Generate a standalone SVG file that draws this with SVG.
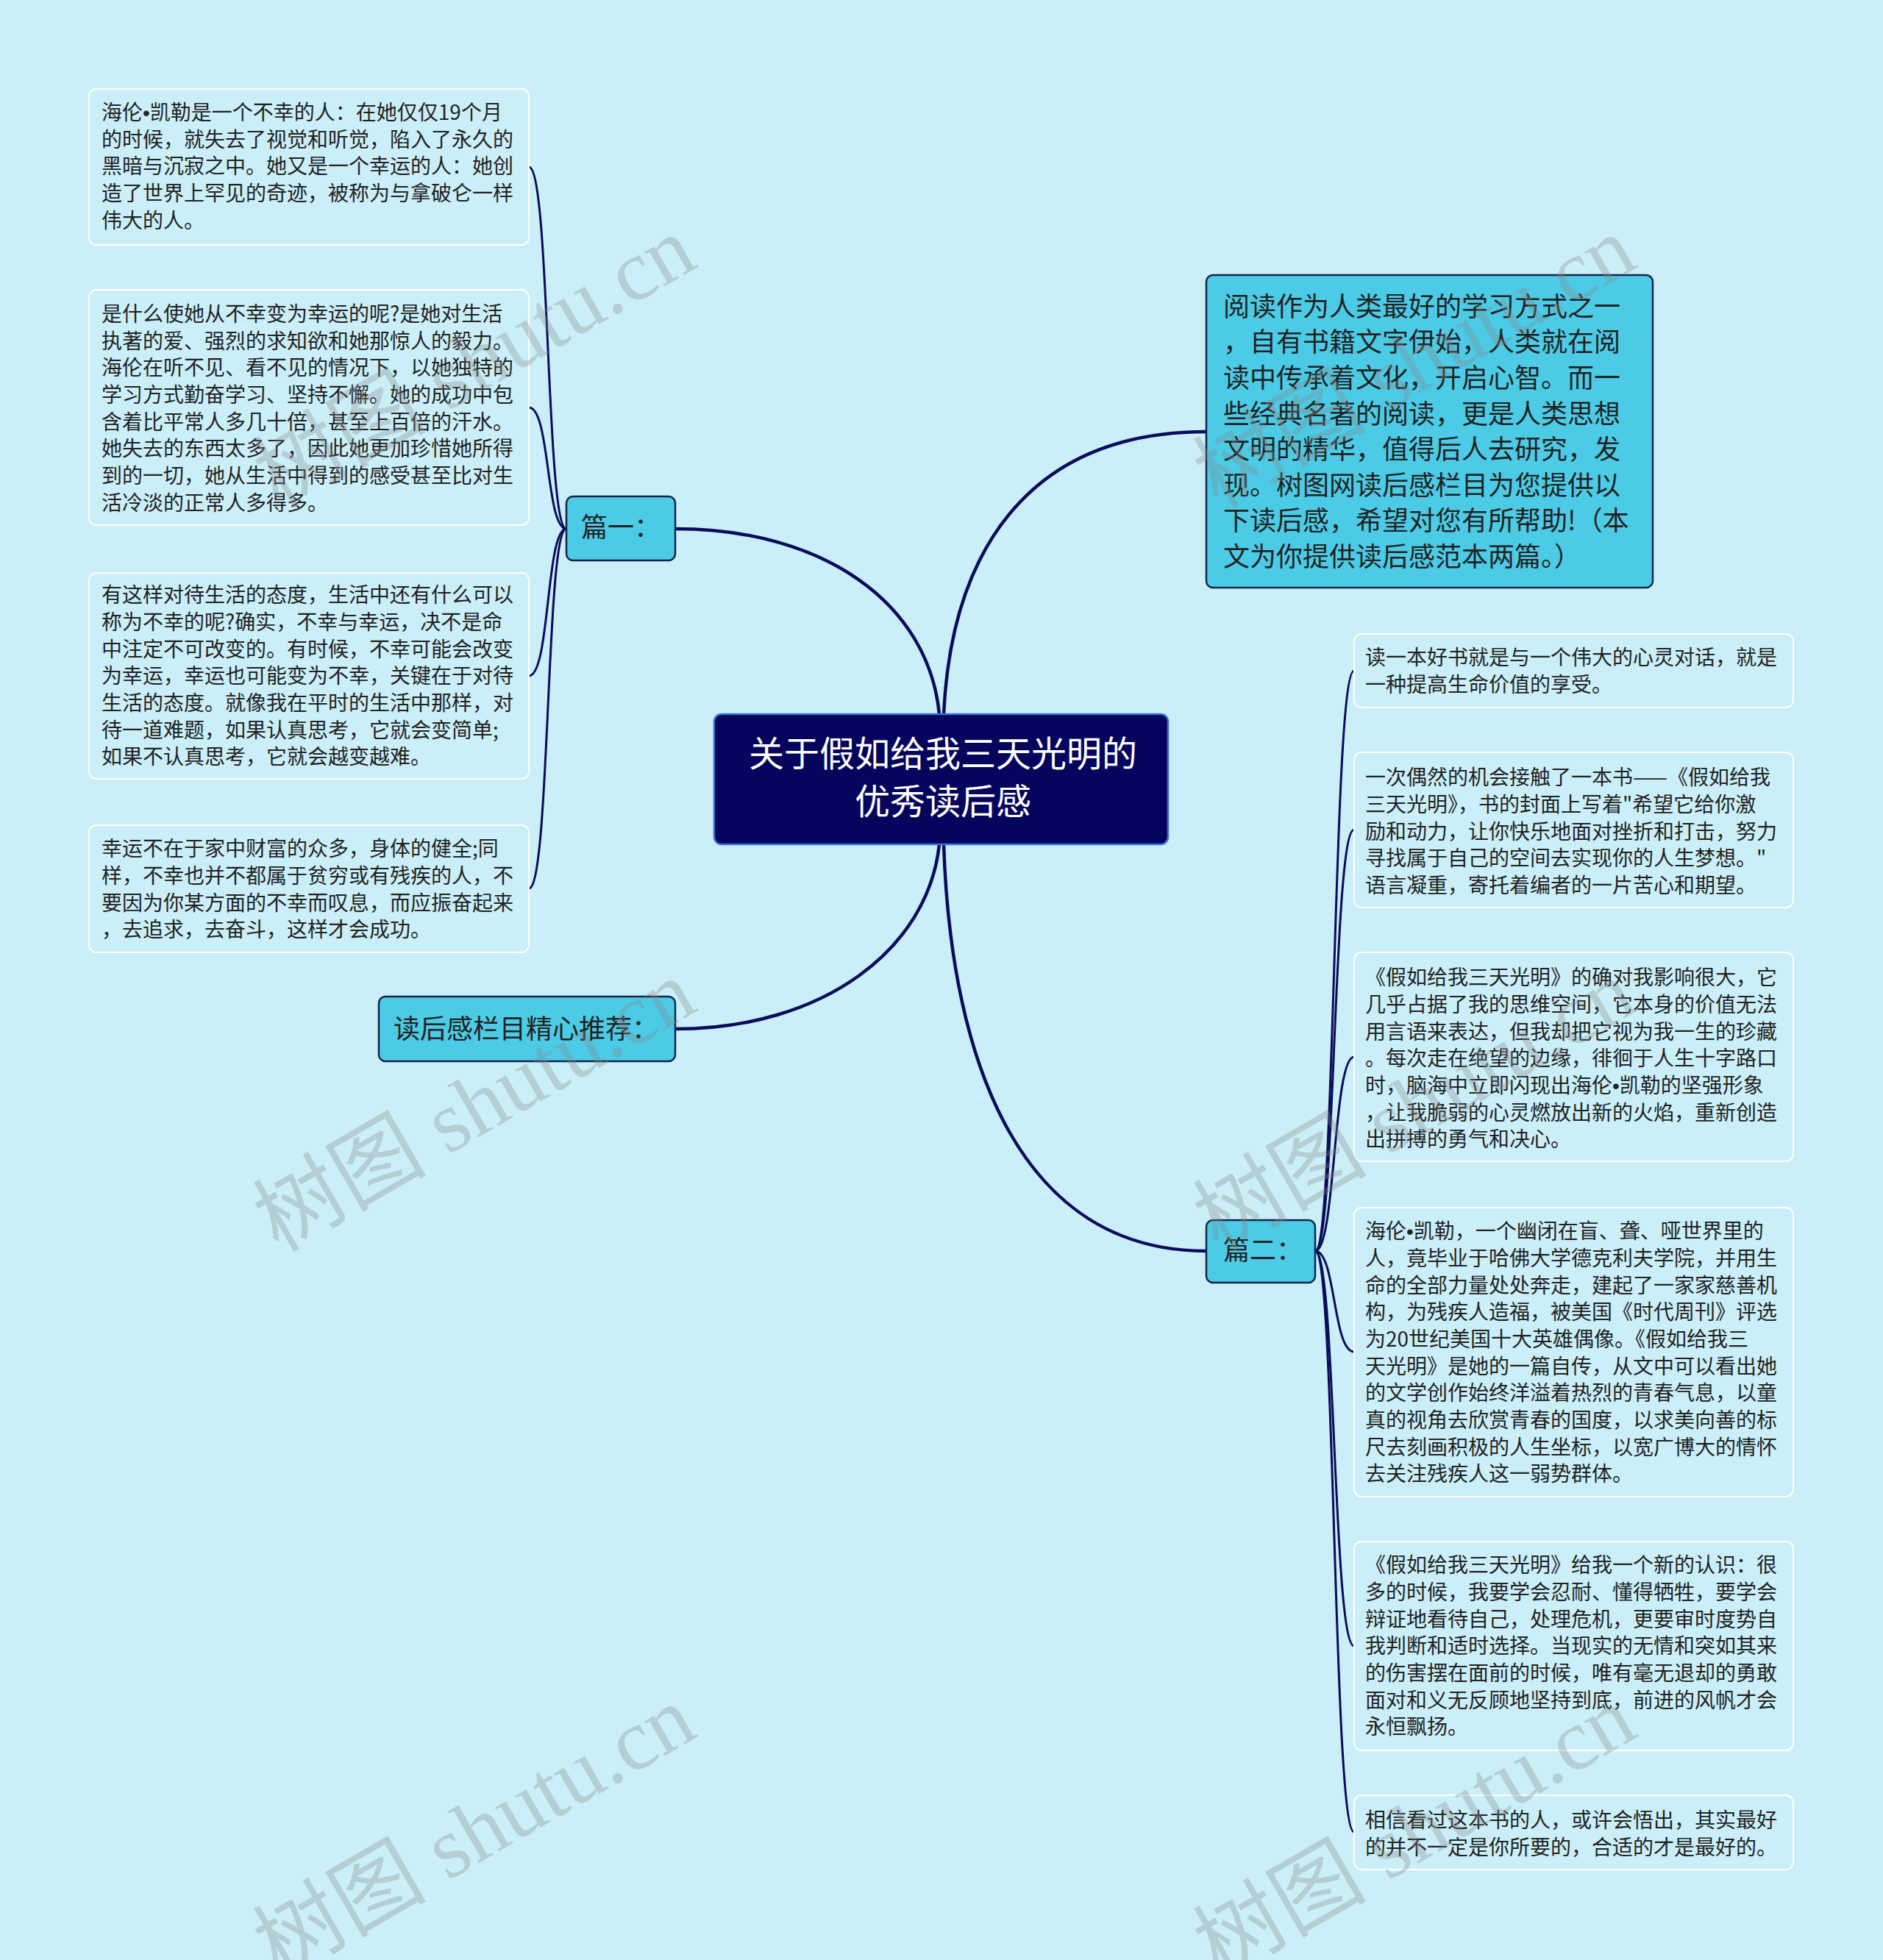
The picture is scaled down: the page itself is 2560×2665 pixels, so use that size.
<svg xmlns="http://www.w3.org/2000/svg" width="2560" height="2665" viewBox="0 0 2560 2665">
<style>
.bg{fill:#caeff8}
.leaf{fill:#caeff8;stroke:#ffffff;stroke-width:2}
.branch{fill:#4ccbe6;stroke:#15254a;stroke-width:2.5}
.root{fill:#05055e;stroke:#3a6fd8;stroke-width:2.5}
.t{font-family:"Noto Sans CJK SC","Noto Sans",sans-serif;fill:#222222}
.b{font-family:"Liberation Sans","Noto Sans CJK SC",sans-serif}
.lt{font-size:28px}
.bt{font-size:36px}
.rt{font-size:48px;fill:#ffffff}
.c{fill:none;stroke:#0b0b5b;stroke-width:4.5;stroke-linecap:round}
.cl{fill:none;stroke:#0b0b5b;stroke-width:3;stroke-linecap:round}
.wm{font-family:"Liberation Serif","Noto Sans CJK SC",serif;font-size:118px;fill:#8a8a8a;fill-opacity:0.32}
</style>
<rect class="bg" x="0" y="0" width="2560" height="2665"/>

<g id="connectors">
<path class="c" d="M 918 719 C 1120 719, 1262 820, 1277 971"/>
<path class="c" d="M 1283 971 C 1293 760, 1390 587, 1640 587"/>
<path class="c" d="M 1277 1148 C 1262 1290, 1120 1399, 918 1399"/>
<path class="c" d="M 1283 1148 C 1293 1450, 1390 1701, 1640 1701"/>
<path class="cl" d="M 770 719 C 742 719, 748 227, 719 227"/>
<path class="cl" d="M 770 719 C 742 719, 748 554, 719 554"/>
<path class="cl" d="M 770 719 C 742 719, 748 919, 719 919"/>
<path class="cl" d="M 770 719 C 742 719, 748 1208, 719 1208"/>
<path class="cl" d="M 1788 1701 C 1816 1701, 1812 912, 1841 912"/>
<path class="cl" d="M 1788 1701 C 1816 1701, 1812 1128, 1841 1128"/>
<path class="cl" d="M 1788 1701 C 1816 1701, 1812 1437, 1841 1437"/>
<path class="cl" d="M 1788 1701 C 1816 1701, 1812 1838, 1841 1838"/>
<path class="cl" d="M 1788 1701 C 1816 1701, 1812 2238, 1841 2238"/>
<path class="cl" d="M 1788 1701 C 1816 1701, 1812 2491, 1841 2491"/>
</g>

<g id="root">
<rect class="root" x="971" y="971" width="617" height="177" rx="10"/>
<text class="t rt" x="1282" y="1042" text-anchor="middle">关于假如给我三天光明的</text>
<text class="t rt" x="1282" y="1107" text-anchor="middle">优秀读后感</text>
</g>

<g id="pian1">
<rect class="branch" x="770" y="675" width="148" height="87" rx="9"/>
<text class="t bt" x="790" y="730">篇一：</text>
</g>

<g id="recommend">
<rect class="branch" x="515" y="1355" width="403" height="88" rx="9"/>
<text class="t bt" x="535" y="1412">读后感栏目精心推荐：</text>
</g>

<g id="intro">
<rect class="branch" x="1640" y="374" width="607" height="425" rx="9"/>
<text class="t bt" x="1663" y="430">阅读作为人类最好的学习方式之一</text>
<text class="t bt" x="1663" y="478">，自有书籍文字伊始，人类就在阅</text>
<text class="t bt" x="1663" y="527">读中传承着文化，开启心智。而一</text>
<text class="t bt" x="1663" y="576">些经典名著的阅读，更是人类思想</text>
<text class="t bt" x="1663" y="624">文明的精华，值得后人去研究，发</text>
<text class="t bt" x="1663" y="673">现。树图网读后感栏目为您提供以</text>
<text class="t bt" x="1663" y="721">下读后感，希望对您有所帮助!（本</text>
<text class="t bt" x="1663" y="770">文为你提供读后感范本两篇。）</text>
</g>

<g id="pian2">
<rect class="branch" x="1640" y="1659" width="148" height="85" rx="9"/>
<text class="t bt" x="1663" y="1713">篇二：</text>
</g>

<g id="leaf1">
<rect class="leaf" x="121" y="121" width="598" height="212" rx="10"/>
<text class="t lt" x="138" y="163">海伦<tspan class="b">•</tspan>凯勒是一个不幸的人：在她仅仅19个月</text>
<text class="t lt" x="138" y="200">的时候，就失去了视觉和听觉，陷入了永久的</text>
<text class="t lt" x="138" y="236">黑暗与沉寂之中。她又是一个幸运的人：她创</text>
<text class="t lt" x="138" y="273">造了世界上罕见的奇迹，被称为与拿破仑一样</text>
<text class="t lt" x="138" y="310">伟大的人。</text>
</g>

<g id="leaf2">
<rect class="leaf" x="121" y="394" width="598" height="320" rx="10"/>
<text class="t lt" x="138" y="437">是什么使她从不幸变为幸运的呢?是她对生活</text>
<text class="t lt" x="138" y="474">执著的爱、强烈的求知欲和她那惊人的毅力。</text>
<text class="t lt" x="138" y="510">海伦在听不见、看不见的情况下，以她独特的</text>
<text class="t lt" x="138" y="547">学习方式勤奋学习、坚持不懈。她的成功中包</text>
<text class="t lt" x="138" y="584">含着比平常人多几十倍，甚至上百倍的汗水。</text>
<text class="t lt" x="138" y="620">她失去的东西太多了，因此她更加珍惜她所得</text>
<text class="t lt" x="138" y="657">到的一切，她从生活中得到的感受甚至比对生</text>
<text class="t lt" x="138" y="694">活冷淡的正常人多得多。</text>
</g>

<g id="leaf3">
<rect class="leaf" x="121" y="779" width="598" height="280" rx="10"/>
<text class="t lt" x="138" y="819">有这样对待生活的态度，生活中还有什么可以</text>
<text class="t lt" x="138" y="856">称为不幸的呢?确实，不幸与幸运，决不是命</text>
<text class="t lt" x="138" y="893">中注定不可改变的。有时候，不幸可能会改变</text>
<text class="t lt" x="138" y="929">为幸运，幸运也可能变为不幸，关键在于对待</text>
<text class="t lt" x="138" y="966">生活的态度。就像我在平时的生活中那样，对</text>
<text class="t lt" x="138" y="1003">待一道难题，如果认真思考，它就会变简单;</text>
<text class="t lt" x="138" y="1039">如果不认真思考，它就会越变越难。</text>
</g>

<g id="leaf4">
<rect class="leaf" x="121" y="1122" width="598" height="173" rx="10"/>
<text class="t lt" x="138" y="1164">幸运不在于家中财富的众多，身体的健全;同</text>
<text class="t lt" x="138" y="1201">样，不幸也并不都属于贫穷或有残疾的人，不</text>
<text class="t lt" x="138" y="1238">要因为你某方面的不幸而叹息，而应振奋起来</text>
<text class="t lt" x="138" y="1274">，去追求，去奋斗，这样才会成功。</text>
</g>

<g id="right1">
<rect class="leaf" x="1841" y="862" width="597" height="100" rx="10"/>
<text class="t lt" x="1856" y="904">读一本好书就是与一个伟大的心灵对话，就是</text>
<text class="t lt" x="1856" y="941">一种提高生命价值的享受。</text>
</g>

<g id="right2">
<rect class="leaf" x="1841" y="1023" width="597" height="211" rx="10"/>
<text class="t lt" x="1856" y="1067">一次偶然的机会接触了一本书——《假如给我</text>
<text class="t lt" x="1856" y="1104">三天光明》，书的封面上写着"希望它给你激</text>
<text class="t lt" x="1856" y="1141">励和动力，让你快乐地面对挫折和打击，努力</text>
<text class="t lt" x="1856" y="1177">寻找属于自己的空间去实现你的人生梦想。"</text>
<text class="t lt" x="1856" y="1214">语言凝重，寄托着编者的一片苦心和期望。</text>
</g>

<g id="right3">
<rect class="leaf" x="1841" y="1295" width="597" height="284" rx="10"/>
<text class="t lt" x="1856" y="1339">《假如给我三天光明》的确对我影响很大，它</text>
<text class="t lt" x="1856" y="1376">几乎占据了我的思维空间，它本身的价值无法</text>
<text class="t lt" x="1856" y="1413">用言语来表达，但我却把它视为我一生的珍藏</text>
<text class="t lt" x="1856" y="1449">。每次走在绝望的边缘，徘徊于人生十字路口</text>
<text class="t lt" x="1856" y="1486">时，脑海中立即闪现出海伦<tspan class="b">•</tspan>凯勒的坚强形象</text>
<text class="t lt" x="1856" y="1523">，让我脆弱的心灵燃放出新的火焰，重新创造</text>
<text class="t lt" x="1856" y="1559">出拼搏的勇气和决心。</text>
</g>

<g id="right4">
<rect class="leaf" x="1841" y="1642" width="597" height="393" rx="10"/>
<text class="t lt" x="1856" y="1684">海伦<tspan class="b">•</tspan>凯勒，一个幽闭在盲、聋、哑世界里的</text>
<text class="t lt" x="1856" y="1721">人，竟毕业于哈佛大学德克利夫学院，并用生</text>
<text class="t lt" x="1856" y="1758">命的全部力量处处奔走，建起了一家家慈善机</text>
<text class="t lt" x="1856" y="1794">构，为残疾人造福，被美国《时代周刊》评选</text>
<text class="t lt" x="1856" y="1831">为20世纪美国十大英雄偶像。《假如给我三</text>
<text class="t lt" x="1856" y="1868">天光明》是她的一篇自传，从文中可以看出她</text>
<text class="t lt" x="1856" y="1904">的文学创作始终洋溢着热烈的青春气息，以童</text>
<text class="t lt" x="1856" y="1941">真的视角去欣赏青春的国度，以求美向善的标</text>
<text class="t lt" x="1856" y="1978">尺去刻画积极的人生坐标，以宽广博大的情怀</text>
<text class="t lt" x="1856" y="2014">去关注残疾人这一弱势群体。</text>
</g>

<g id="right5">
<rect class="leaf" x="1841" y="2096" width="597" height="284" rx="10"/>
<text class="t lt" x="1856" y="2138">《假如给我三天光明》给我一个新的认识：很</text>
<text class="t lt" x="1856" y="2175">多的时候，我要学会忍耐、懂得牺牲，要学会</text>
<text class="t lt" x="1856" y="2212">辩证地看待自己，处理危机，更要审时度势自</text>
<text class="t lt" x="1856" y="2248">我判断和适时选择。当现实的无情和突如其来</text>
<text class="t lt" x="1856" y="2285">的伤害摆在面前的时候，唯有毫无退却的勇敢</text>
<text class="t lt" x="1856" y="2322">面对和义无反顾地坚持到底，前进的风帆才会</text>
<text class="t lt" x="1856" y="2358">永恒飘扬。</text>
</g>

<g id="right6">
<rect class="leaf" x="1841" y="2441" width="597" height="101" rx="10"/>
<text class="t lt" x="1856" y="2485">相信看过这本书的人，或许会悟出，其实最好</text>
<text class="t lt" x="1856" y="2522">的并不一定是你所要的，合适的才是最好的。</text>
</g>

<g id="watermarks">
<text class="wm" x="665" y="527" text-anchor="middle" transform="rotate(-30 665 527)">树图 shutu.cn</text>
<text class="wm" x="665" y="1538" text-anchor="middle" transform="rotate(-30 665 1538)">树图 shutu.cn</text>
<text class="wm" x="665" y="2525" text-anchor="middle" transform="rotate(-30 665 2525)">树图 shutu.cn</text>
<text class="wm" x="1943" y="527" text-anchor="middle" transform="rotate(-30 1943 527)">树图 shutu.cn</text>
<text class="wm" x="1943" y="1538" text-anchor="middle" transform="rotate(-30 1943 1538)">树图 shutu.cn</text>
<text class="wm" x="1943" y="2525" text-anchor="middle" transform="rotate(-30 1943 2525)">树图 shutu.cn</text>
</g>
</svg>
